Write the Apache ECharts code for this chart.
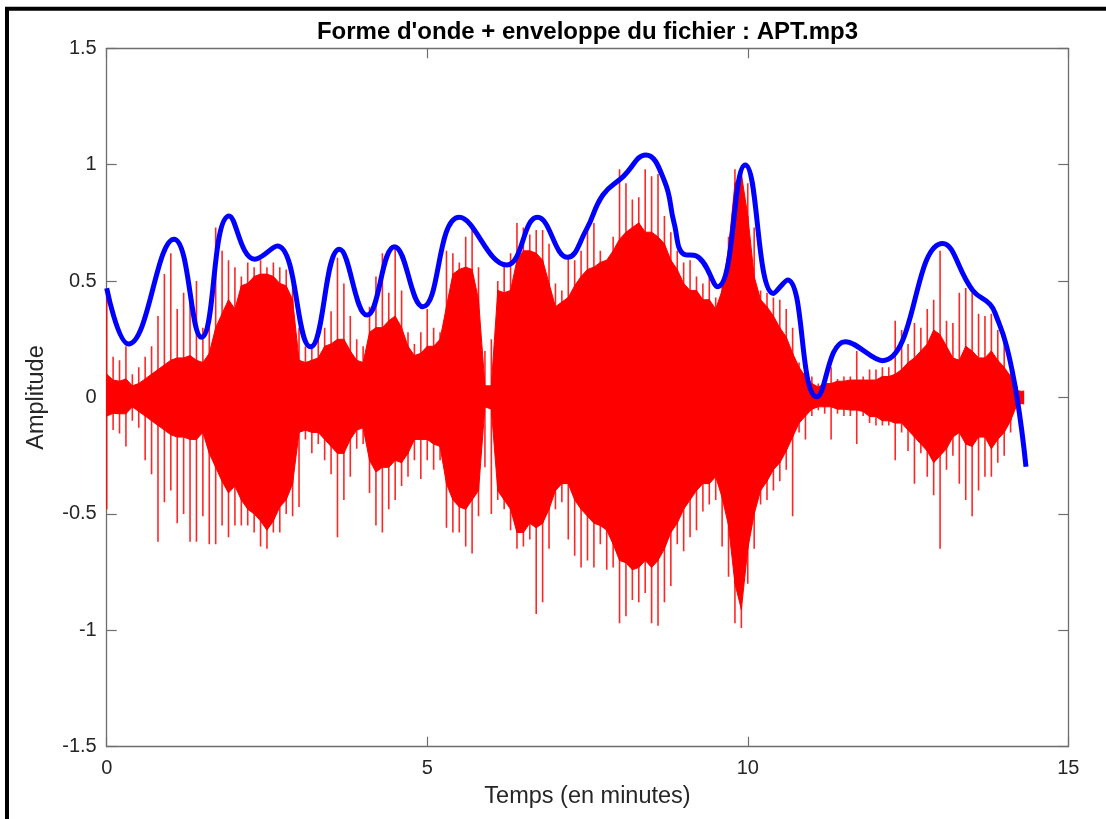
<!DOCTYPE html>
<html><head><meta charset="utf-8">
<script src="https://cdn.jsdelivr.net/npm/echarts@6/dist/echarts.min.js"></script>
<style>html,body{margin:0;padding:0;background:#fff}#c{width:1106px;height:819px}</style>
</head><body><div id="c"></div>
<script>
const binTimes = [0,0.1,0.2,0.3,0.4,0.5,0.6,0.7,0.8,0.9,1,1.1,1.2,1.3,1.4,1.5,1.6,1.7,1.8,1.9,2,2.1,2.2,2.3,2.4,2.5,2.6,2.7,2.8,2.9,3,3.1,3.2,3.3,3.4,3.5,3.6,3.7,3.8,3.9,4,4.1,4.2,4.3,4.4,4.5,4.6,4.7,4.8,4.9,5,5.1,5.2,5.3,5.4,5.5,5.6,5.7,5.8,5.9,6,6.1,6.2,6.3,6.4,6.5,6.6,6.7,6.8,6.9,7,7.1,7.2,7.3,7.4,7.5,7.6,7.7,7.8,7.9,8,8.1,8.2,8.3,8.4,8.5,8.6,8.7,8.8,8.9,9,9.1,9.2,9.3,9.4,9.5,9.6,9.7,9.8,9.9,10,10.1,10.2,10.3,10.4,10.5,10.6,10.7,10.8,10.9,11,11.1,11.2,11.3,11.4,11.5,11.6,11.7,11.8,11.9,12,12.1,12.2,12.3,12.4,12.5,12.6,12.7,12.8,12.9,13,13.1,13.2,13.3,13.4,13.5,13.6,13.7,13.8,13.9,14,14.1,14.2,14.3];
const coreHi = [0.10,0.075,0.07,0.08,0.05,0.06,0.08,0.10,0.12,0.14,0.16,0.17,0.17,0.18,0.16,0.15,0.19,0.30,0.36,0.42,0.38,0.48,0.49,0.52,0.53,0.53,0.52,0.49,0.48,0.42,0.16,0.15,0.16,0.17,0.22,0.23,0.25,0.25,0.20,0.16,0.15,0.28,0.30,0.30,0.33,0.35,0.30,0.22,0.18,0.19,0.22,0.22,0.25,0.39,0.53,0.55,0.56,0.55,0.42,0.05,0.05,0.46,0.45,0.46,0.59,0.63,0.63,0.62,0.59,0.49,0.39,0.41,0.43,0.48,0.52,0.55,0.56,0.58,0.59,0.63,0.68,0.71,0.73,0.75,0.71,0.71,0.69,0.66,0.59,0.55,0.49,0.46,0.46,0.42,0.42,0.38,0.46,0.64,0.92,0.96,0.78,0.52,0.42,0.39,0.35,0.30,0.26,0.19,0.13,0.09,0.06,0.045,0.06,0.06,0.07,0.07,0.075,0.075,0.075,0.075,0.075,0.09,0.09,0.10,0.12,0.15,0.17,0.20,0.23,0.29,0.27,0.22,0.17,0.16,0.22,0.20,0.17,0.17,0.20,0.16,0.13,0.09,0.03,0.025];
const coreLo = [-0.08,-0.068,-0.07,-0.07,-0.04,-0.06,-0.08,-0.10,-0.12,-0.14,-0.16,-0.17,-0.17,-0.18,-0.18,-0.15,-0.24,-0.30,-0.36,-0.41,-0.38,-0.44,-0.48,-0.50,-0.53,-0.57,-0.53,-0.47,-0.44,-0.37,-0.15,-0.14,-0.15,-0.15,-0.18,-0.21,-0.24,-0.24,-0.18,-0.14,-0.13,-0.27,-0.32,-0.30,-0.30,-0.27,-0.28,-0.24,-0.18,-0.18,-0.18,-0.20,-0.21,-0.37,-0.44,-0.47,-0.48,-0.44,-0.40,-0.04,-0.05,-0.40,-0.44,-0.48,-0.58,-0.58,-0.54,-0.56,-0.54,-0.48,-0.40,-0.37,-0.37,-0.44,-0.48,-0.51,-0.54,-0.55,-0.57,-0.63,-0.70,-0.71,-0.74,-0.73,-0.70,-0.73,-0.70,-0.65,-0.58,-0.54,-0.48,-0.44,-0.40,-0.37,-0.37,-0.34,-0.43,-0.55,-0.80,-0.91,-0.65,-0.50,-0.40,-0.36,-0.31,-0.28,-0.23,-0.17,-0.11,-0.08,-0.05,-0.04,-0.04,-0.04,-0.05,-0.05,-0.054,-0.054,-0.06,-0.082,-0.082,-0.10,-0.10,-0.11,-0.11,-0.14,-0.17,-0.20,-0.23,-0.28,-0.25,-0.22,-0.17,-0.15,-0.20,-0.21,-0.17,-0.17,-0.22,-0.18,-0.15,-0.10,-0.03,-0.025];
const peakHi = [0.45,0.175,0.16,0.22,0.10,0.13,0.175,0.22,0.35,0.53,0.62,0.38,0.45,0.49,0.50,0.30,0.38,0.73,0.63,0.59,0.56,0.52,0.58,0.56,0.59,0.56,0.58,0.56,0.55,0.54,0.30,0.22,0.22,0.25,0.30,0.37,0.60,0.49,0.35,0.25,0.22,0.39,0.52,0.62,0.45,0.65,0.46,0.28,0.23,0.28,0.38,0.30,0.28,0.63,0.62,0.58,0.69,0.73,0.56,0.20,0.25,0.50,0.58,0.62,0.75,0.73,0.70,0.72,0.72,0.66,0.49,0.46,0.60,0.59,0.63,0.72,0.75,0.63,0.59,0.69,0.98,0.92,0.85,0.86,0.98,0.95,0.96,0.78,0.71,0.63,0.58,0.59,0.52,0.49,0.52,0.43,0.50,0.69,0.98,0.99,0.92,0.73,0.46,0.45,0.43,0.42,0.38,0.30,0.15,0.13,0.09,0.06,0.07,0.13,0.08,0.09,0.09,0.20,0.09,0.12,0.12,0.13,0.13,0.33,0.29,0.23,0.32,0.30,0.38,0.42,0.63,0.33,0.32,0.45,0.47,0.45,0.36,0.35,0.36,0.29,0.26,0.17,0.05,0.03];
const peakLo = [-0.48,-0.14,-0.155,-0.21,-0.10,-0.13,-0.27,-0.33,-0.62,-0.45,-0.40,-0.54,-0.50,-0.62,-0.62,-0.51,-0.63,-0.63,-0.55,-0.60,-0.55,-0.55,-0.55,-0.58,-0.64,-0.65,-0.58,-0.58,-0.50,-0.51,-0.47,-0.18,-0.24,-0.20,-0.27,-0.33,-0.60,-0.44,-0.34,-0.22,-0.20,-0.41,-0.55,-0.58,-0.48,-0.44,-0.38,-0.34,-0.27,-0.35,-0.27,-0.31,-0.27,-0.56,-0.58,-0.58,-0.64,-0.67,-0.51,-0.30,-0.50,-0.44,-0.48,-0.57,-0.65,-0.64,-0.61,-0.93,-0.88,-0.65,-0.48,-0.45,-0.61,-0.68,-0.73,-0.70,-0.73,-0.63,-0.74,-0.73,-0.97,-0.94,-0.87,-0.88,-0.84,-0.97,-0.98,-0.88,-0.81,-0.63,-0.66,-0.60,-0.57,-0.49,-0.46,-0.44,-0.64,-0.77,-0.97,-0.99,-0.80,-0.65,-0.46,-0.44,-0.40,-0.36,-0.31,-0.51,-0.15,-0.18,-0.08,-0.055,-0.07,-0.18,-0.07,-0.08,-0.08,-0.20,-0.08,-0.11,-0.12,-0.12,-0.12,-0.27,-0.15,-0.23,-0.37,-0.24,-0.34,-0.42,-0.65,-0.31,-0.25,-0.37,-0.44,-0.51,-0.40,-0.34,-0.34,-0.28,-0.25,-0.15,-0.04,-0.03];
// Envelope (blue)
const envTimes  = [0,0.34,1.05,1.48,1.91,2.31,2.66,3.18,3.63,4.06,4.49,4.93,5.5,6.24,6.72,7.19,7.48,7.74,8.06,8.41,8.7,8.85,9.0,9.2,9.53,9.96,10.4,10.62,11.08,11.52,12.1,13.04,13.51,13.78,13.88,14.04,14.2,14.34];
const envValues = [0.469,0.23,0.68,0.259,0.78,0.594,0.651,0.218,0.637,0.354,0.648,0.39,0.774,0.569,0.774,0.602,0.72,0.87,0.95,1.042,0.93,0.75,0.616,0.608,0.476,0.999,0.447,0.505,0.003,0.24,0.158,0.662,0.46,0.40,0.347,0.218,0.0,-0.297];
const titleText = "Forme d'onde + enveloppe du fichier : APT.mp3";
const xName = 'Temps (en minutes)';
const yName = 'Amplitude';

const bandData = [];
for (let i = 0; i < binTimes.length - 1; i++) {
  bandData.push([binTimes[i], coreHi[i], coreLo[i], binTimes[i+1], coreHi[i+1], coreLo[i+1]]);
}
const spikeData = binTimes.map((t, i) => [t, peakHi[i], peakLo[i]]);
const envData = envTimes.map((t, i) => [t, envValues[i]]);

const FONT = '"Liberation Sans", Arial, Helvetica, sans-serif';
const axisCol = '#6e6e6e';
const txtCol = '#262626';
function mkX(pos, labels) {
  return {type:'value', gridIndex:0, position:pos, min:0, max:15, interval:5,
    axisLine:{show:true, onZero:false, lineStyle:{color:axisCol, width:1.3}},
    axisTick:{show:true, inside:true, length:10, lineStyle:{color:axisCol, width:1.2}},
    axisLabel:{show:labels, color:txtCol, fontSize:20, fontFamily:FONT, margin:12},
    splitLine:{show:false},
    name: labels ? xName : '', nameLocation:'middle', nameGap:38,
    nameTextStyle:{color:txtCol, fontSize:23.5, fontFamily:FONT}};
}
function mkY(pos, labels) {
  return {type:'value', gridIndex:0, position:pos, min:-1.5, max:1.5, interval:0.5,
    axisLine:{show:true, onZero:false, lineStyle:{color:axisCol, width:1.3}},
    axisTick:{show:true, inside:true, length:10, lineStyle:{color:axisCol, width:1.2}},
    axisLabel:{show:labels, color:txtCol, fontSize:20, fontFamily:FONT, margin:10},
    splitLine:{show:false},
    name: labels ? yName : '', nameLocation:'middle', nameGap:58,
    nameTextStyle:{color:txtCol, fontSize:23.5, fontFamily:FONT}};
}

const chart = echarts.init(document.getElementById('c'), null, {renderer:'canvas'});
chart.setOption({
  animation:false,
  backgroundColor:'#ffffff',
  grid:{left:106.7, top:48.3, right:37.7, bottom:72.3, containLabel:false},
  xAxis:[mkX('bottom', true), mkX('top', false)],
  yAxis:[mkY('left', true), mkY('right', false)],
  graphic:[
    {type:'rect', shape:{x:7, y:8.7, width:1300, height:1000}, style:{fill:null, stroke:'#000', lineWidth:4}, z:100},
    {type:'text', x:587.5, y:32, style:{text:titleText, fill:'#000', font:'bold 24px ' + FONT, textAlign:'center', textVerticalAlign:'middle'}, z:100}
  ],
  series:[
    {type:'custom', xAxisIndex:0, yAxisIndex:0, clip:true, z:2,
     encode:{x:[0,3], y:[1,2,4,5]}, data:bandData,
     renderItem:function(params, api){
       const a = api.coord([api.value(0), api.value(1)]);
       const b = api.coord([api.value(3), api.value(4)]);
       const c = api.coord([api.value(3), api.value(5)]);
       const d = api.coord([api.value(0), api.value(2)]);
       return {type:'polygon', shape:{points:[a,b,c,d]}, style:{fill:'#ff0000', stroke:'#ff0000', lineWidth:1}};
     }},
    {type:'custom', xAxisIndex:0, yAxisIndex:0, clip:true, z:3,
     encode:{x:0, y:[1,2]}, data:spikeData,
     renderItem:function(params, api){
       const a = api.coord([api.value(0), api.value(1)]);
       const b = api.coord([api.value(0), api.value(2)]);
       return {type:'line', shape:{x1:a[0], y1:a[1], x2:b[0], y2:b[1]}, style:{stroke:'rgba(255,0,0,0.85)', lineWidth:1.6}};
     }},
    {type:'line', xAxisIndex:0, yAxisIndex:0, z:5, data:envData, smooth:0.45, showSymbol:false,
     lineStyle:{color:'#0000ff', width:5}, itemStyle:{color:'#0000ff'}}
  ]
});
</script></body></html>
